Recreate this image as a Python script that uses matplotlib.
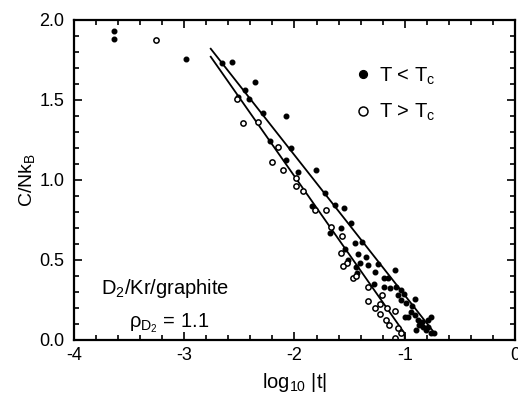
import matplotlib.pyplot as plt
from matplotlib.ticker import MultipleLocator

plt.rcParams['font.family'] = ['Liberation Sans', 'DejaVu Sans']

# T < Tc (filled)
below_x = [-3.64, -3.64, -2.98, -2.66, -2.57, -2.36, -2.45, -2.51, -2.41, -2.29,
           -2.075, -2.225, -2.03, -2.075, -1.964, -1.805, -1.72, -1.84, -1.63, -1.55,
           -1.49, -1.58, -1.68, -1.45, -1.39, -1.54, -1.42, -1.35, -1.51, -1.41,
           -1.44, -1.33, -1.27, -1.43, -1.24, -1.09, -1.19, -1.15, -1.19, -1.13,
           -1.08, -1.03, -1.01, -1.06, -0.91, -1.00, -0.94, -0.91, -0.88, -0.84,
           -0.79, -0.76, -0.90, -0.81, -0.79, -0.76, -0.73, -0.83, -0.87, -0.97,
           -0.93, -1.03, -0.99, -1.28]
below_y = [1.93, 1.88, 1.754, 1.733, 1.735, 1.61, 1.5625, 1.52, 1.506, 1.417,
           1.398, 1.246, 1.20, 1.125, 1.052, 1.06, 0.917, 0.8375, 0.844, 0.823,
           0.733, 0.698, 0.667, 0.608, 0.615, 0.567, 0.54, 0.52, 0.50, 0.48,
           0.458, 0.469, 0.427, 0.417, 0.475, 0.4375, 0.385, 0.39, 0.333, 0.323,
           0.33, 0.3125, 0.2875, 0.281, 0.254, 0.146, 0.177, 0.156, 0.125, 0.115,
           0.125, 0.146, 0.0625, 0.0625, 0.083, 0.046, 0.042, 0.083, 0.094, 0.146,
           0.2125, 0.25, 0.23, 0.35]

# T > Tc (open)
above_x = [-3.26, -2.52, -2.47, -2.33, -2.15, -2.20, -2.10, -1.99, -1.985, -1.92,
           -1.81, -1.71, -1.67, -1.57, -1.58, -1.52, -1.56, -1.47, -1.33, -1.21,
           -1.33, -1.27, -1.22, -1.22, -1.16, -1.09, -1.17, -1.14, -1.06, -1.03,
           -1.09, -1.44]
above_y = [1.875, 1.506, 1.354, 1.36, 1.208, 1.11, 1.0625, 1.015, 0.9625, 0.933,
           0.8125, 0.8125, 0.708, 0.65, 0.546, 0.48, 0.4625, 0.39, 0.33, 0.281,
           0.246, 0.198, 0.225, 0.1625, 0.198, 0.18, 0.125, 0.094, 0.073, 0.046,
           0.01, 0.40]

# fit lines
fit_below_x = [-2.76, -0.72]
fit_below_y = [1.82, 0.035]
fit_above_x = [-2.76, -1.0, -1.0]
fit_above_y = [1.77, 0.04, 0.0]

fig = plt.figure(figsize=(5.18, 3.99), dpi=100)
ax = fig.add_axes([0.143, 0.148, 0.851, 0.802])

ax.plot(fit_below_x, fit_below_y, color='black', lw=1.3)
ax.plot(fit_above_x, fit_above_y, color='black', lw=1.3)
ax.plot(below_x, below_y, 'o', color='black', ms=3.3, label='T < T$_\\mathregular{c}$')
ax.plot(above_x, above_y, 'o', mfc='white', mec='black', mew=1.1, ms=3.8,
        label='T > T$_\\mathregular{c}$')

ax.set_xlim(-4, 0)
ax.set_ylim(0, 2.0)
ax.xaxis.set_minor_locator(MultipleLocator(0.2))
ax.yaxis.set_minor_locator(MultipleLocator(0.1))
ax.set_xticks([-4, -3, -2, -1, 0], ['-4', '-3', '-2', '-1', '0'])
ax.set_yticks([0, 0.5, 1.0, 1.5, 2.0], ['0.0', '0.5', '1.0', '1.5', '2.0'])
ax.tick_params(which='both', direction='in', top=True, right=True, width=1.2,
               labelsize=13)
ax.tick_params(which='major', length=6)
ax.tick_params(which='minor', length=3.5)
ax.tick_params(axis='y', pad=7)
ax.tick_params(axis='x', pad=5)
for s in ax.spines.values():
    s.set_linewidth(1.6)

ax.set_xlabel('log$_\\mathregular{10}$ |t|', fontsize=14.5, labelpad=5)
ax.set_ylabel('C/Nk$_\\mathregular{B}$', fontsize=14, labelpad=1)

leg = ax.legend(loc='upper right', bbox_to_anchor=(0.86, 0.915), frameon=False,
                fontsize=14.5, handletextpad=0.25, markerscale=1.7, labelspacing=0.75,
                handlelength=1.1)

ax.text(-3.76, 0.29, 'D$_\\mathregular{2}$/Kr/graphite', fontsize=14.5)
ax.text(-3.5, 0.08, '$\\mathregular{\\rho_{D_2}}$ = 1.1', fontsize=14.5)

fig.savefig('out.png', dpi=100)
